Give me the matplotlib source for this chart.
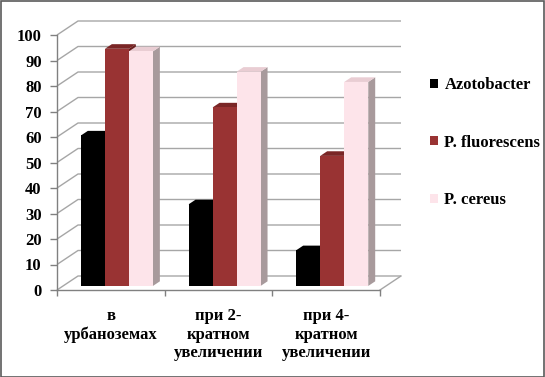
import matplotlib
matplotlib.use("Agg")
import matplotlib.pyplot as plt
from matplotlib.patches import Polygon, Rectangle, Patch
import numpy as np

categories = ["в\nурбаноземах", "при 2-\nкратном\nувеличении", "при 4-\nкратном\nувеличении"]
series_names = ["Azotobacter", "P. fluorescens", "P. cereus"]
azotobacter = [59, 32, 14]
fluorescens = [93, 70, 51]
cereus = [92, 84, 80]
yticks = list(range(0, 101, 10))

front_colors = ["#000000", "#993333", "#FDE4EA"]
top_colors = ["#000000", "#7A2626", "#E9CDD3"]
side_colors = ["#000000", "#6A2020", "#A89A9C"]

plt.rcParams['font.family'] = ['Liberation Serif', 'DejaVu Serif']
plt.rcParams['font.weight'] = 'bold'

W, H = 545, 377
fig = plt.figure(figsize=(W / 100, H / 100), dpi=100)

# axes geometry in pixels
px_per_cat = (380 - 57) / 3.0
px_per_val = (290 - 35) / 100.0
x_max = 3.2
y_max = 106
ax = fig.add_axes([57 / W, (H - 290) / H, x_max * px_per_cat / W, y_max * px_per_val / H])
ax.set_xlim(0, x_max)
ax.set_ylim(0, y_max)

# depth offset (back plane) in data units
ddx = 21 / px_per_cat
ddy = 14 / px_per_val

grid_color = "#A6A6A6"
ncat = len(categories)
# walls / gridlines
for v in yticks:
    ax.plot([0, ddx, ncat + ddx], [v, v + ddy, v + ddy], color=grid_color, lw=1.0,
            clip_on=False, zorder=1, solid_capstyle='butt')
ax.plot([ncat, ncat + ddx], [0, ddy], color=grid_color, lw=1.0, clip_on=False, zorder=1)

# bars
f0, f1 = 0.29, 0.62
bw = 0.223
gap = (1 - 3 * bw) / 2
data = [azotobacter, fluorescens, cereus]
for i in range(ncat):
    for j, vals in enumerate(data):
        v = vals[i]
        xl = i + gap + j * bw
        xr = xl + bw
        ox0, oy0 = f0 * ddx, f0 * ddy
        ox1, oy1 = f1 * ddx, f1 * ddy
        z = 3 + i * 3 + j
        side = Polygon([(xr + ox0, oy0), (xr + ox0, v + oy0), (xr + ox1, v + oy1), (xr + ox1, oy1)],
                       closed=True, facecolor=side_colors[j], edgecolor='none', zorder=z, clip_on=False)
        top = Polygon([(xl + ox0, v + oy0), (xr + ox0, v + oy0), (xr + ox1, v + oy1), (xl + ox1, v + oy1)],
                      closed=True, facecolor=top_colors[j], edgecolor='none', zorder=z, clip_on=False)
        ax.add_patch(side)
        ax.add_patch(top)
        ax.bar(xl + ox0, v, width=bw, bottom=oy0, align='edge', color=front_colors[j],
               edgecolor='none', zorder=z + 0.5, clip_on=False)

# axes
for s in ['top', 'right']:
    ax.spines[s].set_visible(False)
ax.spines['left'].set_bounds(0, 100)
ax.spines['bottom'].set_bounds(0, ncat)
for s in ['left', 'bottom']:
    ax.spines[s].set_color("#808080")
    ax.spines[s].set_linewidth(1.0)
    ax.spines[s].set_zorder(20)
ax.set_yticks(yticks)
ax.set_yticklabels([str(t) for t in yticks], fontsize=12, fontweight='bold')
ax.tick_params(axis='y', length=5, width=1, color="#808080", pad=6)
ax.set_xticks(range(ncat + 1))
ax.set_xticklabels([])
ax.tick_params(axis='x', which='major', length=4, width=1, color="#808080")
ax.set_xticks(np.arange(ncat) + 0.5, minor=True)
ax.set_xticklabels(categories, minor=True, fontsize=12, fontweight='bold', linespacing=1.22)
ax.tick_params(axis='x', which='minor', length=0, pad=13)
ax.patch.set_visible(False)

# legend
handles = [Patch(facecolor=front_colors[k], edgecolor='none') for k in range(3)]
fig.legend(handles, series_names, loc='upper left', bbox_to_anchor=(430 / W, 1 - 77 / H),
           frameon=False, prop={'weight': 'bold', 'size': 12},
           handlelength=0.45, handleheight=0.45, handletextpad=0.42, labelspacing=2.5,
           borderaxespad=0, borderpad=0)

# outer border
fig.patches.append(Rectangle((0.5 / W, 0.5 / H), 1 - 1.5 / W, 1 - 1.5 / H, transform=fig.transFigure,
                             fill=False, edgecolor="#5A5A5A", lw=1.2))

fig.savefig("out.png", dpi=100)
